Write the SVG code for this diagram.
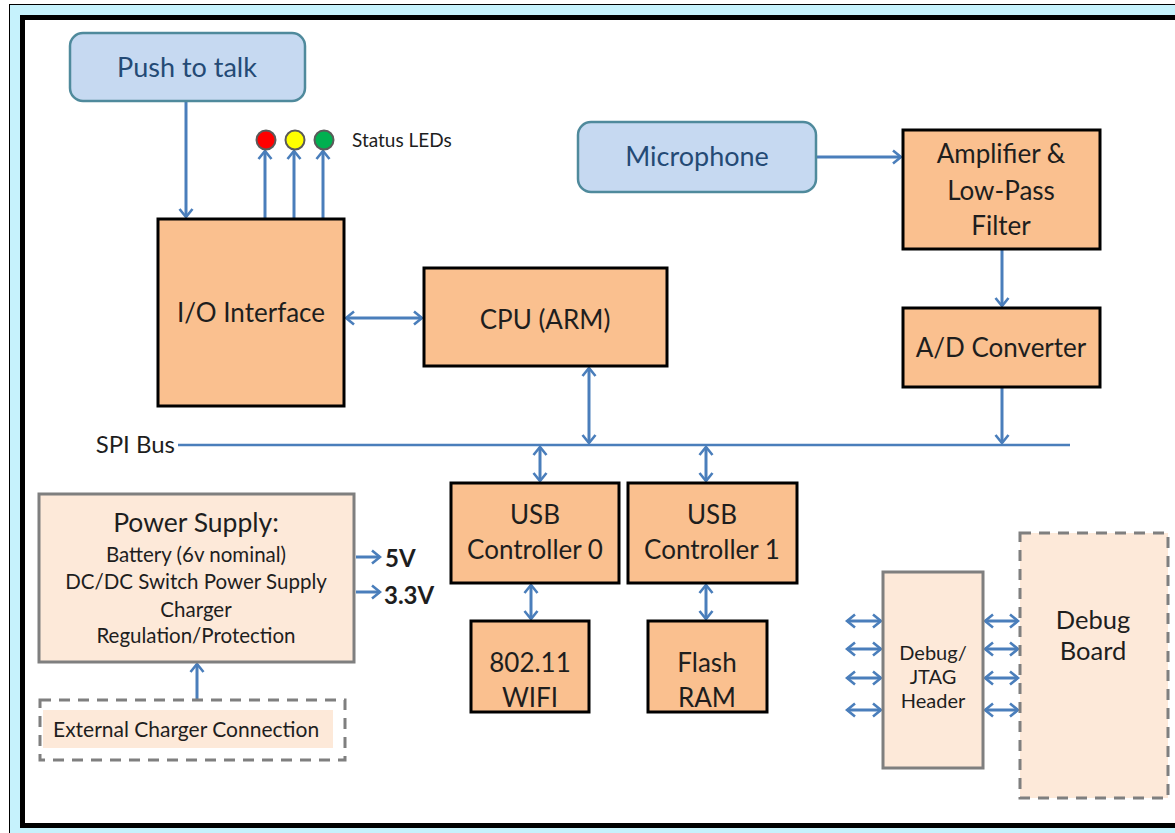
<svg xmlns="http://www.w3.org/2000/svg" width="1175" height="833" viewBox="0 0 1175 833">
<style>
text{font-family:Lato,"Open Sans","Liberation Sans",sans-serif;fill:#1e1e1e;text-anchor:middle}
.blue{fill:#c6d9f1;stroke:#4f8a9c;stroke-width:2.5}
.bt{fill:#244a75;font-size:27px}
.org{fill:#fac08f;stroke:#000;stroke-width:3}
.pch{fill:#fde9d9;stroke:#7f7f7f;stroke-width:3}
.dash{fill:none;stroke:#7f7f7f;stroke-width:3;stroke-dasharray:11,8}
.t22{font-size:26px}
.t18{font-size:20.5px}
.c{fill:none;stroke:#4a7ebb;stroke-width:3}
.e{marker-end:url(#a)}
.b{marker-end:url(#a);marker-start:url(#a)}
</style>
<defs>
<marker id="a" viewBox="0 0 12 16" refX="10" refY="8" markerWidth="12" markerHeight="16" orient="auto-start-reverse" markerUnits="userSpaceOnUse">
<path d="M2,1.5 L10,8 L2,14.5" fill="none" stroke="#4a7ebb" stroke-width="2.6"/>
</marker>
</defs>
<rect x="0" y="0" width="1175" height="833" fill="#fff"/>
<rect x="9.5" y="4.5" width="1200" height="900" fill="#c6f2fc" stroke="#000" stroke-width="1"/>
<rect x="22.5" y="17.5" width="1200" height="808" fill="#fff" stroke="#000" stroke-width="5"/>

<g id="connectors">
<line class="c e" x1="186" y1="102" x2="186" y2="217"/>
<line class="c e" x1="265" y1="219" x2="265" y2="151"/>
<line class="c e" x1="294" y1="219" x2="294" y2="151"/>
<line class="c e" x1="323" y1="219" x2="323" y2="151"/>
<line class="c b" x1="346" y1="318" x2="422" y2="318"/>
<line class="c b" x1="589" y1="368" x2="589" y2="443"/>
<line x1="178" y1="445" x2="1070" y2="445" stroke="#4a7ebb" stroke-width="2.5"/>
<line class="c e" x1="816" y1="157" x2="901" y2="157"/>
<line class="c e" x1="1002" y1="250" x2="1002" y2="306"/>
<line class="c e" x1="1002" y1="388" x2="1002" y2="443"/>
<line class="c b" x1="540" y1="447" x2="540" y2="481"/>
<line class="c b" x1="706" y1="447" x2="706" y2="481"/>
<line class="c b" x1="531" y1="585" x2="531" y2="619"/>
<line class="c b" x1="706" y1="585" x2="706" y2="619"/>
<line class="c e" x1="356" y1="557" x2="380" y2="557"/>
<line class="c e" x1="356" y1="592" x2="380" y2="592"/>
<line class="c e" x1="197" y1="700" x2="197" y2="664"/>
<line class="c b" x1="847" y1="621" x2="881" y2="621"/>
<line class="c b" x1="847" y1="649" x2="881" y2="649"/>
<line class="c b" x1="847" y1="678" x2="881" y2="678"/>
<line class="c b" x1="847" y1="710" x2="881" y2="710"/>
<line class="c b" x1="985" y1="621" x2="1018" y2="621"/>
<line class="c b" x1="985" y1="649" x2="1018" y2="649"/>
<line class="c b" x1="985" y1="678" x2="1018" y2="678"/>
<line class="c b" x1="985" y1="710" x2="1018" y2="710"/>
</g>

<g id="push-to-talk">
<rect class="blue" x="70" y="33" width="235" height="68" rx="13"/>
<text class="bt" x="187" y="77">Push to talk</text>
</g>

<g id="status-leds">
<circle cx="266" cy="140" r="9.5" fill="#ff0000" stroke="#5a5a5a" stroke-width="2"/>
<circle cx="295" cy="140" r="9.5" fill="#ffff00" stroke="#5a5a5a" stroke-width="2"/>
<circle cx="324" cy="140" r="9.5" fill="#00b050" stroke="#5a5a5a" stroke-width="2"/>
<text x="352" y="147" style="text-anchor:start;font-size:19px">Status LEDs</text>
</g>

<g id="io-interface">
<rect class="org" x="158" y="219" width="186" height="187"/>
<text class="t22" x="251" y="322">I/O Interface</text>
</g>

<g id="cpu">
<rect class="org" x="424" y="268" width="243" height="98"/>
<text class="t22" x="545" y="329">CPU (ARM)</text>
</g>

<g id="microphone">
<rect class="blue" x="578" y="122" width="238" height="70" rx="13"/>
<text class="bt" x="697" y="166">Microphone</text>
</g>

<g id="amplifier">
<rect class="org" x="903" y="130" width="197" height="119"/>
<text class="t22" x="1001" y="163">Amplifier &amp;</text>
<text class="t22" x="1001" y="200">Low-Pass</text>
<text class="t22" x="1001" y="235">Filter</text>
</g>

<g id="ad-converter">
<rect class="org" x="903" y="308" width="197" height="79"/>
<text class="t22" x="1001" y="357">A/D Converter</text>
</g>

<g id="spi-bus">
<text x="175" y="453" style="text-anchor:end;font-size:24px">SPI Bus</text>
</g>

<g id="usb0">
<rect class="org" x="451" y="483" width="168" height="100"/>
<text class="t22" x="535" y="524">USB</text>
<text class="t22" x="535" y="559">Controller 0</text>
</g>

<g id="usb1">
<rect class="org" x="628" y="483" width="169" height="100"/>
<text class="t22" x="712" y="524">USB</text>
<text class="t22" x="712" y="559">Controller 1</text>
</g>

<g id="wifi">
<rect class="org" x="471" y="621" width="118" height="91"/>
<text class="t22" x="530" y="672">802.11</text>
<text class="t22" x="530" y="707">WIFI</text>
</g>

<g id="flash">
<rect class="org" x="648" y="621" width="119" height="91"/>
<text class="t22" x="707" y="672">Flash</text>
<text class="t22" x="707" y="707">RAM</text>
</g>

<g id="power-supply">
<rect class="pch" x="39" y="494" width="315" height="168"/>
<text x="196" y="532" style="font-size:26.5px">Power Supply:</text>
<text class="t18" x="196" y="562">Battery (6v nominal)</text>
<text class="t18" x="196" y="589">DC/DC Switch Power Supply</text>
<text class="t18" x="196" y="617">Charger</text>
<text class="t18" x="196" y="643">Regulation/Protection</text>
<text x="385" y="567" style="text-anchor:start;font-size:24px;font-weight:bold">5V</text>
<text x="384" y="604" style="text-anchor:start;font-size:24px;font-weight:bold">3.3V</text>
</g>

<g id="external-charger">
<rect x="43" y="710" width="290" height="38" fill="#fde9d9"/>
<rect class="dash" x="40" y="700" width="305" height="60"/>
<text x="53" y="737" style="text-anchor:start;font-size:21px">External Charger Connection</text>
</g>

<g id="jtag-header">
<rect class="pch" x="883" y="572" width="100" height="196"/>
<text x="933" y="660" style="font-size:20px">Debug/</text>
<text x="933" y="684" style="font-size:20px">JTAG</text>
<text x="933" y="708" style="font-size:20px">Header</text>
</g>

<g id="debug-board">
<rect x="1020" y="533" width="148" height="265" fill="#fde9d9"/>
<rect class="dash" x="1020" y="533" width="148" height="265"/>
<text x="1093" y="629" style="font-size:25.5px">Debug</text>
<text x="1093" y="660" style="font-size:25.5px">Board</text>
</g>
</svg>
